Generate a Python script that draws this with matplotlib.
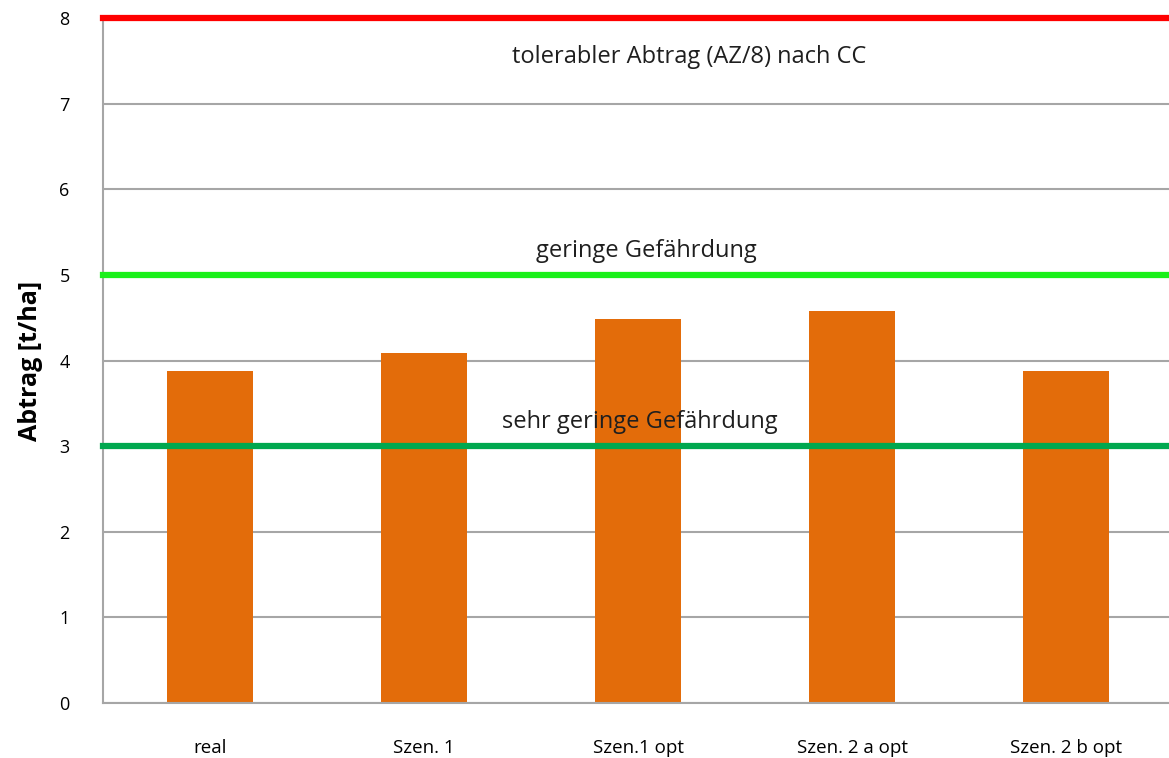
import numpy as np
import matplotlib.pyplot as plt

categories = ["real", "Szen. 1", "Szen.1 opt", "Szen. 2 a opt", "Szen. 2 b opt"]
abtrag = [3.88, 4.09, 4.49, 4.58, 3.88]

thresholds = [8, 5, 3]
threshold_labels = ["tolerabler Abtrag (AZ/8) nach CC", "geringe Gefährdung", "sehr geringe Gefährdung"]
threshold_colors = ["#FF0000", "#1AF01A", "#00A84F"]

plt.rcParams['font.family'] = ['Open Sans', 'DejaVu Sans']

fig = plt.figure(figsize=(11.69, 7.58), dpi=100)
ax = fig.add_axes([103 / 1169, 1 - 703 / 758, 1 - 103 / 1169, (703 - 18) / 758])

x = np.arange(len(categories))
ax.bar(x, abtrag, width=0.4, color="#E36C0A", zorder=2)

ax.set_xlim(-0.5, 4.48)
ax.set_ylim(0, 8)
ax.set_yticks(range(0, 9))
ax.yaxis.grid(True, color="#A6A6A6", linewidth=1.5, zorder=0)
ax.set_axisbelow(True)

for val, col in zip(thresholds, threshold_colors):
    ax.axhline(val, color=col, linewidth=4.5, zorder=3, clip_on=False)

text_pos = [(2.24, 7.55), (2.04, 5.28), (2.01, 3.28)]
for (tx, ty), lab in zip(text_pos, threshold_labels):
    ax.text(tx, ty, lab, ha="center", va="center", fontsize=17, color="#1F1F1F", zorder=4)

ax.set_xticks(x)
ax.set_xticklabels(categories, fontsize=13.5)
ax.tick_params(axis="x", length=0, pad=26)
ax.tick_params(axis="y", length=0, pad=24, labelsize=13)

for s in ["top", "right"]:
    ax.spines[s].set_visible(False)
for s in ["left", "bottom"]:
    ax.spines[s].set_color("#A6A6A6")
    ax.spines[s].set_linewidth(1.5)

ax.set_ylabel("Abtrag [t/ha]", fontsize=18, fontweight="bold", labelpad=12)

fig.savefig("out.png", dpi=100)
